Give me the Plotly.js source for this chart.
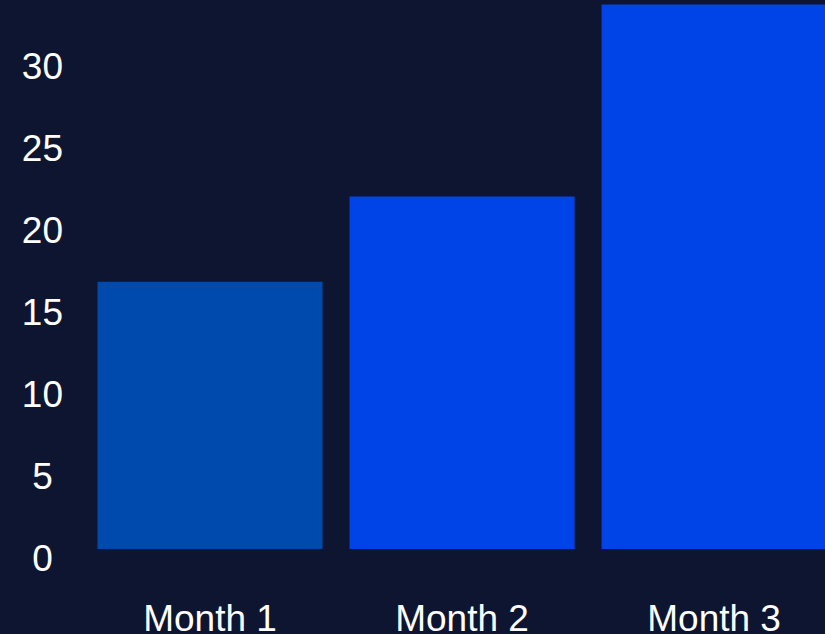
<!DOCTYPE html>
<html>
<head>
<meta charset="utf-8">
<script src="https://cdn.plot.ly/plotly-3.0.1.min.js"></script>
<style>html,body{margin:0;padding:0;background:#0e1530;}#chart{width:825px;height:634px;}</style>
</head>
<body>
<div id="chart"></div>
<script>
const categories = ["Month 1", "Month 2", "Month 3"];
const values = [16.3, 21.5, 33.2];
const barColors = ["#004aad", "#0044e8", "#0044e8"];
const yTickVals = [0, 5, 10, 15, 20, 25, 30];
const yTickText = ["0\u00a0", "5\u00a0", "10", "15", "20", "25", "30"];

const trace = {
  type: "bar",
  x: categories,
  y: values,
  marker: { color: barColors, line: { width: 0 } },
  hoverinfo: "skip"
};

const layout = {
  width: 825,
  height: 634,
  margin: { l: 84, r: 0, t: 0, b: 85, pad: 0 },
  paper_bgcolor: "#0e1530",
  plot_bgcolor: "#0e1530",
  bargap: 0.107,
  showlegend: false,
  font: { family: "Liberation Sans, Arial, sans-serif", color: "#ffffff", size: 37 },
  xaxis: {
    type: "category",
    range: [-0.5, 2.44],
    showgrid: false,
    zeroline: false,
    showline: false,
    ticks: "",
    ticklabelstandoff: 44,
    tickfont: { size: 37, color: "#ffffff" }
  },
  yaxis: {
    range: [0, 33.48],
    tickvals: yTickVals,
    ticktext: yTickText,
    showgrid: false,
    zeroline: false,
    showline: false,
    ticks: "",
    ticklabelstandoff: 20,
    ticklabelshift: 9,
    tickfont: { size: 37, color: "#ffffff" }
  }
};

Plotly.newPlot("chart", [trace], layout, { displayModeBar: false, staticPlot: true });
</script>
</body>
</html>
